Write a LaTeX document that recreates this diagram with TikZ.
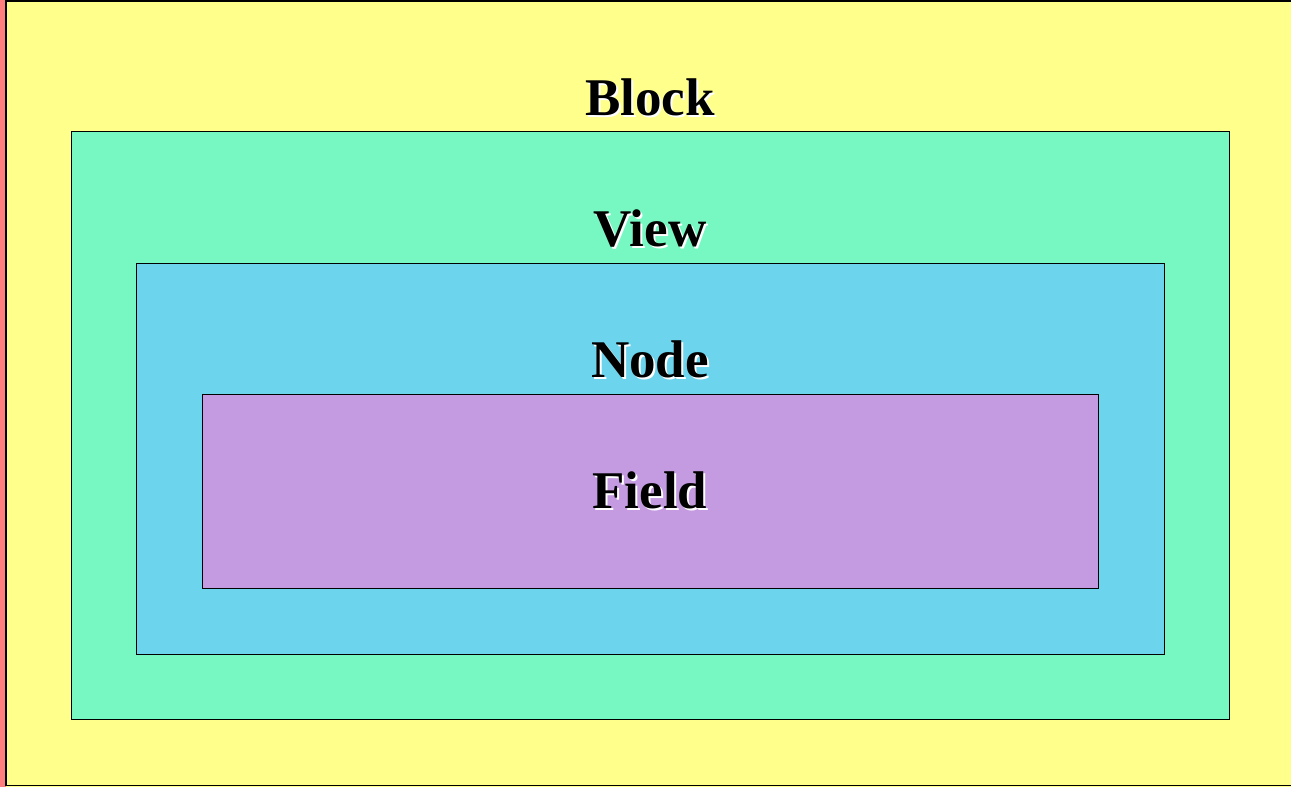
\documentclass[tikz,border=0pt]{standalone}
\usepackage{fontspec}
\setmainfont{Liberation Serif}
\definecolor{bgyellow}{HTML}{FFFF8C}
\definecolor{salmon}{HTML}{FF7F7F}
\definecolor{viewgreen}{HTML}{77F7C1}
\definecolor{nodeblue}{HTML}{6CD4EC}
\definecolor{fieldpurple}{HTML}{C49BE0}
\tikzset{
  layer/.style={draw=black, line width=1.3pt},
  lbl/.style={font=\fontsize{53}{60}\selectfont\bfseries, text=black, anchor=base, inner sep=0pt},
  lblshadow/.style={font=\fontsize{53}{60}\selectfont\bfseries, text=white, anchor=base, inner sep=0pt},
}
\begin{document}
\begin{tikzpicture}[x=1pt,y=-1pt]
\useasboundingbox (0,0) rectangle (1291,787);
\fill[salmon] (0,0) rectangle (6,787);
\fill[bgyellow] (6,0) rectangle (1291,787);
\draw[line width=1.5pt] (1291,1) -- (6,1) -- (6,785.5) -- (1291,785.5);
\node[layer, fill=viewgreen, minimum width=1158pt, minimum height=588pt, anchor=north west, inner sep=0pt] (view) at (71,131) {};
\node[layer, fill=nodeblue, minimum width=1028pt, minimum height=391pt, anchor=north west, inner sep=0pt] (nodebox) at (136,263) {};
\node[layer, fill=fieldpurple, minimum width=896pt, minimum height=194pt, anchor=north west, inner sep=0pt] (field) at (202,394) {};
\node[lblshadow] (blocks) at (652,117) {Block};
\node[lbl] (blockt) at (650,115) {Block};
\node[lblshadow] (views) at (652,248) {View};
\node[lbl] (viewt) at (650,246) {View};
\node[lblshadow] (nodes) at (652,379) {Node};
\node[lbl] (nodet) at (650,377) {Node};
\node[lblshadow] (fields) at (652,510) {Field};
\node[lbl] (fieldt) at (650,508) {Field};
\end{tikzpicture}
\end{document}
